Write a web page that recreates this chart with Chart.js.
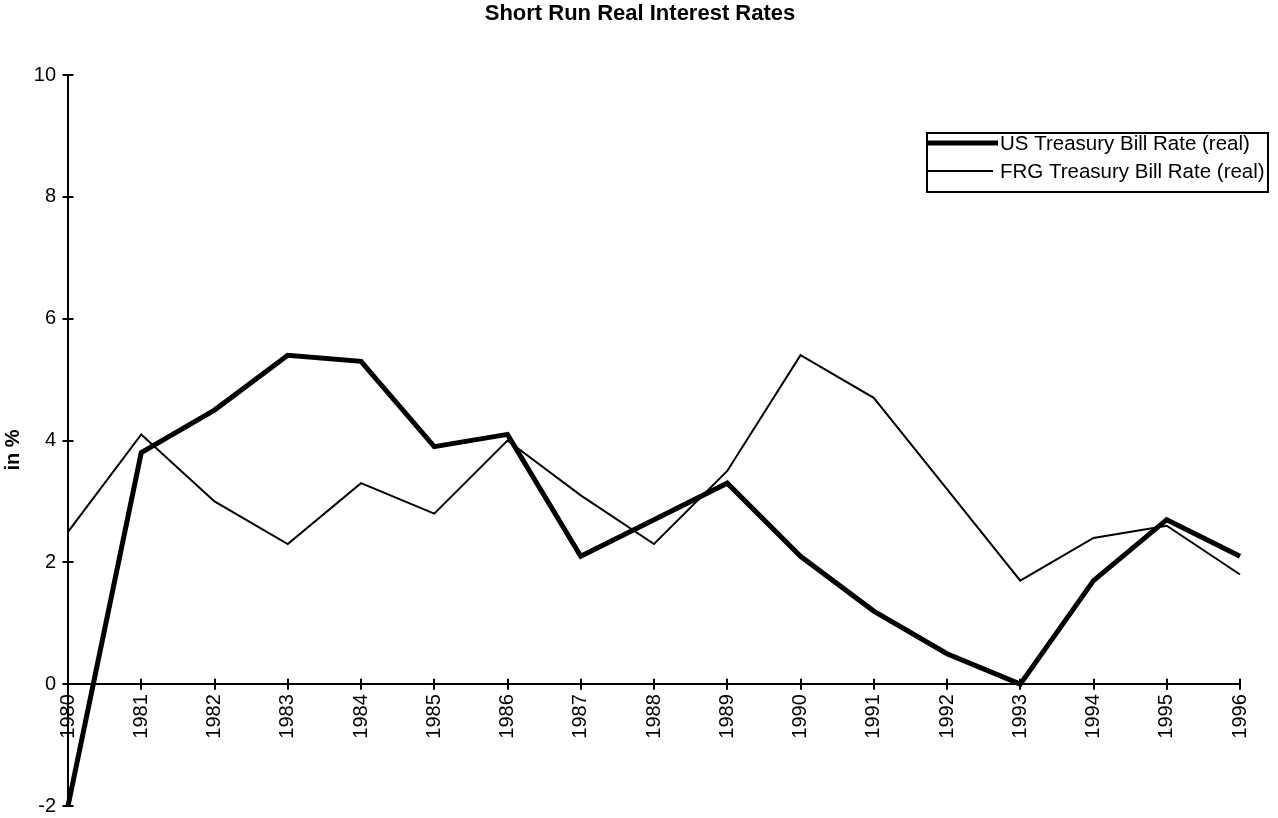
<!DOCTYPE html>
<html>
<head>
<meta charset="utf-8">
<title>Short Run Real Interest Rates</title>
<script src="https://cdn.jsdelivr.net/npm/chart.js@4/dist/chart.umd.min.js"></script>
<style>
  html, body { margin: 0; padding: 0; background: #ffffff; }
  #wrap { width: 1278px; height: 818px; position: relative; }
</style>
</head>
<body>
<div id="wrap"><canvas id="chart" width="1278" height="818"></canvas></div>
<script>
// Years on the category axis
const years = ['1980','1981','1982','1983','1984','1985','1986','1987','1988',
               '1989','1990','1991','1992','1993','1994','1995','1996'];

// Real short-term rates, in percent
const usRates  = [-2.0, 3.8, 4.5, 5.4, 5.3, 3.9, 4.1, 2.1, 2.7, 3.3, 2.1, 1.2, 0.5, 0.0, 1.7, 2.7, 2.1];
const frgRates = [ 2.5, 4.1, 3.0, 2.3, 3.3, 2.8, 4.0, 3.1, 2.3, 3.5, 5.4, 4.7, 3.2, 1.7, 2.4, 2.6, 1.8];

const seriesNames = ['US Treasury Bill Rate (real)', 'FRG Treasury Bill Rate (real)'];
const chartTitle = 'Short Run Real Interest Rates';
const valueAxisTitle = 'in %';

// Value axis range
const yMin = -2, yMax = 10, yStep = 2;

const FONT = 'Arial, "Liberation Sans", sans-serif';
Chart.defaults.font.family = FONT;
Chart.defaults.color = '#000000';

// Short tick marks that cross both axes
const crossTicks = {
  id: 'crossTicks',
  afterDraw(chart) {
    const {ctx, scales: {x, y}} = chart;
    const half = 5.5;
    const y0 = y.getPixelForValue(0);
    ctx.save();
    ctx.strokeStyle = '#000';
    ctx.lineWidth = 2;
    ctx.beginPath();
    x.ticks.forEach((t, i) => {
      const px = Math.round(x.getPixelForTick(i));
      ctx.moveTo(px, y0 - half);
      ctx.lineTo(px, y0 + half);
    });
    y.ticks.forEach((t, i) => {
      const py = Math.round(y.getPixelForTick(i));
      ctx.moveTo(x.left - half, py);
      ctx.lineTo(x.left + half, py);
    });
    ctx.stroke();
    ctx.restore();
  }
};

// Chart heading and the rotated value-axis caption
const captions = {
  id: 'captions',
  afterDraw(chart) {
    const {ctx} = chart;
    ctx.save();
    ctx.fillStyle = '#000';
    ctx.textAlign = 'center';
    ctx.textBaseline = 'middle';
    ctx.font = 'bold 22px ' + FONT;
    ctx.fillText(chartTitle, 640, 14);
    ctx.translate(13, 450);
    ctx.rotate(-Math.PI / 2);
    ctx.font = 'bold 20px ' + FONT;
    ctx.fillText(valueAxisTitle, 0, 0);
    ctx.restore();
  }
};

// Boxed legend in the upper right of the plot
const boxLegend = {
  id: 'boxLegend',
  afterDraw(chart) {
    const {ctx} = chart;
    const left = 927, top = 133, right = 1268, bottom = 192;
    ctx.save();
    ctx.fillStyle = '#fff';
    ctx.fillRect(left, top, right - left, bottom - top);
    ctx.strokeStyle = '#000';
    ctx.lineWidth = 2;
    ctx.strokeRect(left, top, right - left, bottom - top);
    const rows = [143, 171];
    const lineEnds = [998, 993];
    chart.data.datasets.forEach((ds, i) => {
      ctx.beginPath();
      ctx.lineWidth = ds.borderWidth;
      ctx.strokeStyle = ds.borderColor;
      ctx.moveTo(left, rows[i]);
      ctx.lineTo(lineEnds[i], rows[i]);
      ctx.stroke();
      ctx.font = '20.5px ' + FONT;
      ctx.fillStyle = '#000';
      ctx.textAlign = 'left';
      ctx.textBaseline = 'middle';
      ctx.fillText(ds.label, 1000, rows[i] + 1);
    });
    ctx.restore();
  }
};

new Chart(document.getElementById('chart'), {
  type: 'line',
  data: {
    labels: years,
    datasets: [
      {
        label: seriesNames[0],
        data: usRates,
        borderColor: '#000',
        borderWidth: 5,
        pointRadius: 0,
        tension: 0,
        borderJoinStyle: 'miter',
        clip: false
      },
      {
        label: seriesNames[1],
        data: frgRates,
        borderColor: '#000',
        borderWidth: 2,
        pointRadius: 0,
        tension: 0,
        borderJoinStyle: 'miter',
        clip: false
      }
    ]
  },
  options: {
    responsive: false,
    animation: false,
    events: [],
    layout: { padding: { left: 0, right: 38, top: 75, bottom: 12 } },
    plugins: {
      legend: { display: false },
      tooltip: { enabled: false },
      title: { display: false }
    },
    scales: {
      x: {
        type: 'category',
        position: { y: 0 },
        offset: false,
        grid: { display: true, drawOnChartArea: false, drawTicks: false },
        border: { display: true, color: '#000', width: 2 },
        ticks: {
          autoSkip: false,
          minRotation: 90,
          maxRotation: 90,
          padding: 10,
          font: { size: 20 },
          color: '#000'
        },
        afterFit(scale) {
          scale.height = 0;
          scale.paddingLeft = 0;
          scale.paddingRight = 0;
        }
      },
      y: {
        type: 'linear',
        min: yMin,
        max: yMax,
        grid: { display: true, drawOnChartArea: false, drawTicks: false },
        border: { display: true, color: '#000', width: 2 },
        ticks: {
          stepSize: yStep,
          padding: 12,
          font: { size: 20 },
          color: '#000'
        },
        afterFit(scale) {
          scale.width = 68;
          scale.paddingTop = 0;
          scale.paddingBottom = 0;
        }
      }
    }
  },
  plugins: [crossTicks, captions, boxLegend]
});
</script>
</body>
</html>
